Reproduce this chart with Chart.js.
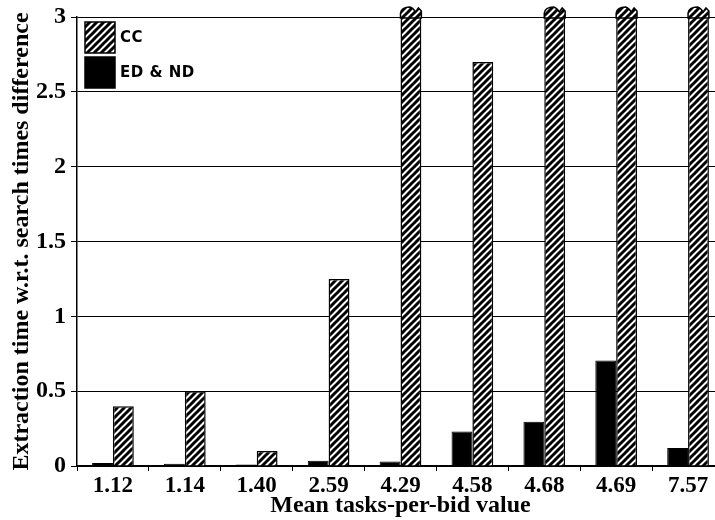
<!DOCTYPE html>
<html>
<head>
<meta charset="utf-8">
<script src="https://cdn.jsdelivr.net/npm/chart.js@4.4.1/dist/chart.umd.min.js"></script>
<style>
  html, body { margin: 0; padding: 0; background: #fff; overflow: hidden; }
  #wrap { width: 730px; height: 520px; }
</style>
</head>
<body>
<div id="wrap"><canvas id="c" width="730" height="520"></canvas></div>
<script>
// Mean tasks-per-bid values on the x axis
const categories = ['1.12', '1.14', '1.40', '2.59', '4.29', '4.58', '4.68', '4.69', '7.57'];
// ED & ND extraction time difference
const edNd = [0.02, 0.015, 0.01, 0.035, 0.03, 0.23, 0.295, 0.705, 0.12];
// CC extraction time difference (values above 3 run off the axis)
const cc = [0.40, 0.50, 0.10, 1.25, 3.2, 2.70, 3.2, 3.2, 3.2];
const yTicks = [0, 0.5, 1, 1.5, 2, 2.5, 3];
const yMax = 3;

// Diagonal stripe fill for the CC bars
function stripePattern() {
  const s = 7;
  const p = document.createElement('canvas');
  p.width = s; p.height = s;
  const g = p.getContext('2d');
  g.fillStyle = '#fff';
  g.fillRect(0, 0, s, s);
  g.strokeStyle = '#000';
  g.lineWidth = 3;
  g.beginPath();
  for (let k = -1; k <= 1; k++) {
    g.moveTo(k * s - 1, s + 1);
    g.lineTo(k * s + s + 1, -1);
  }
  g.stroke();
  return g.createPattern(p, 'repeat');
}
const ccFill = stripePattern();

const serif = '"Liberation Serif", "Times New Roman", serif';

// Legend drawn inside the plot, top-left
const innerLegend = {
  id: 'innerLegend',
  afterDraw(chart) {
    const ctx = chart.ctx;
    const a = chart.chartArea;
    const items = [chart.data.datasets[1], chart.data.datasets[0]];
    ctx.save();
    items.forEach((ds, i) => {
      const x = a.left + 8, y = a.top + 5 + i * 35, w = 30, h = 31;
      ctx.fillStyle = ds.backgroundColor;
      ctx.fillRect(x, y, w, h);
      ctx.strokeStyle = '#000';
      ctx.lineWidth = 1.5;
      ctx.strokeRect(x, y, w, h);
      ctx.fillStyle = '#000';
      ctx.font = 'bold 15px "DejaVu Sans", sans-serif';
      ctx.letterSpacing = '0.5px';
      ctx.textBaseline = 'middle';
      ctx.fillText(ds.label, x + w + 5, y + h / 2 + 1);
    });
    ctx.restore();
  }
};

// Broken caps on bars that run past the top of the axis
const breakCaps = {
  id: 'breakCaps',
  afterDatasetsDraw(chart) {
    const ctx = chart.ctx;
    const top = chart.chartArea.top;
    const meta = chart.getDatasetMeta(1);
    const data = chart.data.datasets[1].data;
    ctx.save();
    meta.data.forEach((bar, i) => {
      if (data[i] <= yMax) return;
      const l = bar.x - bar.width / 2, r = bar.x + bar.width / 2, w = r - l;
      ctx.beginPath();
      ctx.moveTo(l, top + 1);
      ctx.lineTo(l, top - 4);
      ctx.quadraticCurveTo(l + 1, top - 10, l + w * 0.45, top - 10);
      ctx.quadraticCurveTo(l + w * 0.62, top - 9, l + w * 0.72, top - 5);
      ctx.lineTo(l + w * 0.86, top - 9);
      ctx.lineTo(r, top - 6);
      ctx.lineTo(r, top + 1);
      ctx.closePath();
      ctx.fillStyle = ccFill;
      ctx.fill();
      ctx.strokeStyle = '#000';
      ctx.lineWidth = 1.5;
      ctx.stroke();
    });
    ctx.restore();
  }
};

new Chart(document.getElementById('c'), {
  type: 'bar',
  data: {
    labels: categories,
    datasets: [
      {
        label: 'ED & ND',
        data: edNd,
        backgroundColor: '#000',
        borderColor: '#000',
        borderWidth: 1,
        barPercentage: 1.0,
        categoryPercentage: 0.58
      },
      {
        label: 'CC',
        data: cc,
        backgroundColor: ccFill,
        borderColor: '#000',
        borderWidth: 1.5,
        barPercentage: 1.0,
        categoryPercentage: 0.58
      }
    ]
  },
  options: {
    responsive: false,
    animation: false,
    layout: { padding: { top: 16, right: 6, left: 7, bottom: 0 } },
    plugins: {
      legend: { display: false },
      tooltip: { enabled: false }
    },
    scales: {
      x: {
        grid: {
          display: true,
          drawOnChartArea: false,
          drawTicks: true,
          tickLength: 5,
          color: '#000',
          offset: true
        },
        border: { display: true, color: '#000', width: 1.5 },
        ticks: {
          color: '#000',
          font: { family: serif, weight: 'bold', size: 23 },
          padding: 1,
          maxRotation: 0
        },
        title: {
          display: true,
          text: 'Mean tasks-per-bid value',
          color: '#000',
          font: { family: serif, weight: 'bold', size: 24 },
          padding: { top: 0, bottom: 0 }
        },
        afterFit(scale) { scale.height = 54; }
      },
      y: {
        min: 0,
        max: yMax,
        afterBuildTicks(scale) { scale.ticks = yTicks.map(v => ({ value: v })); },
        grid: {
          color: '#000',
          lineWidth: 1,
          tickLength: 6,
          drawTicks: true
        },
        border: { display: true, color: '#000', width: 1.5 },
        ticks: {
          color: '#000',
          font: { family: serif, weight: 'bold', size: 24, lineHeight: 1.0 },
          padding: 5,
          callback: v => String(v)
        },
        title: {
          display: true,
          text: 'Extraction time w.r.t. search times difference',
          color: '#000',
          font: { family: serif, weight: 'bold', size: 24 },
          padding: { top: 0, bottom: 0 }
        },
        afterFit(scale) { scale.width = 70; }
      }
    }
  },
  plugins: [innerLegend, breakCaps]
});
</script>
</body>
</html>
